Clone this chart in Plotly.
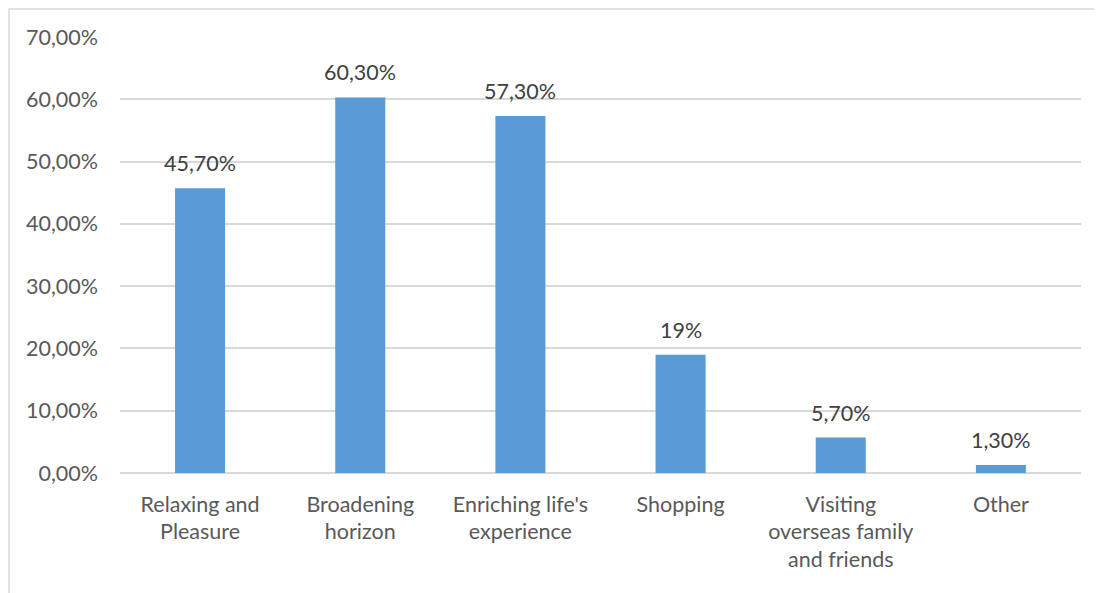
import plotly.graph_objects as go

categories = ["Relaxing and<br>Pleasure", "Broadening<br>horizon", "Enriching life's<br>experience",
              "Shopping", "Visiting<br>overseas family<br>and friends", "Other"]
values = [45.7, 60.3, 57.3, 19.0, 5.7, 1.3]
value_labels = ["45,70%", "60,30%", "57,30%", "19%", "5,70%", "1,30%"]
y_tickvals = [0, 10, 20, 30, 40, 50, 60, 70]
y_ticktext = ["0,00%", "10,00%", "20,00%", "30,00%", "40,00%", "50,00%", "60,00%", "70,00%"]

# page body has an 8px margin, so figure origin sits at (8, 8) of the window
W, H = 1094, 585
ML, MR, MT, MB = 112, 21, 29, 120
FONT = "Lato, 'Open Sans', sans-serif"
FS = 21.5
TEXT_COLOR = "#595959"

fig = go.Figure()
fig.add_trace(go.Bar(
    x=categories, y=values,
    marker=dict(color="#5B9BD5", line=dict(width=0)),
    hoverinfo="skip",
))

for c, v, t in zip(categories, values, value_labels):
    fig.add_annotation(x=c, y=v, text=t, showarrow=False, yanchor="bottom",
                       yshift=10, font=dict(family=FONT, size=FS, color="#404040"))

pw = W - ML - MR
ph = H - MT - MB
fig.add_shape(type="rect", xref="paper", yref="paper",
              x0=(1 - ML) / pw, x1=(W + 20 - ML) / pw,
              y0=-(H + 20 - MT - ph) / ph, y1=1 + (MT - 1) / ph,
              line=dict(color="#D9D9D9", width=1.5), fillcolor="rgba(0,0,0,0)", layer="below")

fig.update_layout(
    width=W, height=H,
    margin=dict(l=ML, r=MR, t=MT, b=MB, autoexpand=False),
    paper_bgcolor="white", plot_bgcolor="white",
    bargap=0.6875,
    showlegend=False,
    font=dict(family=FONT, size=FS, color=TEXT_COLOR),
)
fig.update_yaxes(range=[0, 70], tickvals=y_tickvals, ticktext=y_ticktext,
                 showgrid=True, gridcolor="#D9D9D9", gridwidth=1.5,
                 zeroline=True, zerolinecolor="#D9D9D9", zerolinewidth=1.5,
                 showline=False, ticks="", ticklabelstandoff=21,
                 tickfont=dict(family=FONT, size=FS, color=TEXT_COLOR))
fig.update_xaxes(showline=False, ticks="", ticklabelstandoff=16,
                 tickfont=dict(family=FONT, size=FS, color=TEXT_COLOR))

fig.write_html("out.html")
